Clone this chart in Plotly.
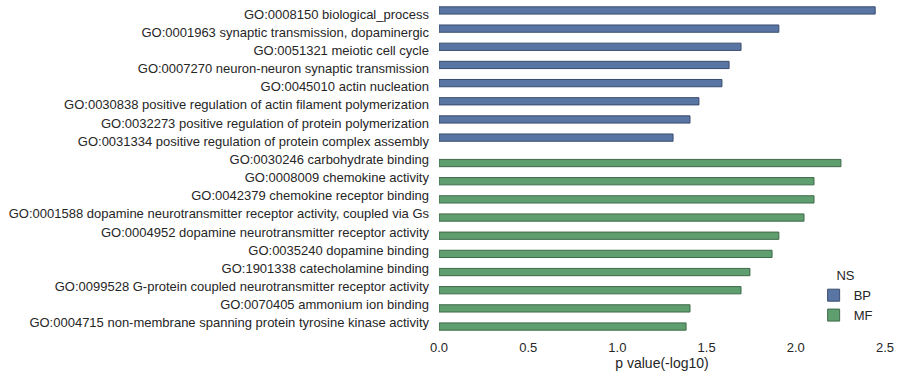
import plotly.graph_objects as go

bp_terms = [
    "GO:0008150 biological_process",
    "GO:0001963 synaptic transmission, dopaminergic",
    "GO:0051321 meiotic cell cycle",
    "GO:0007270 neuron-neuron synaptic transmission",
    "GO:0045010 actin nucleation",
    "GO:0030838 positive regulation of actin filament polymerization",
    "GO:0032273 positive regulation of protein polymerization",
    "GO:0031334 positive regulation of protein complex assembly",
]
bp_values = [2.445, 1.905, 1.693, 1.626, 1.586, 1.457, 1.407, 1.312]

mf_terms = [
    "GO:0030246 carbohydrate binding",
    "GO:0008009 chemokine activity",
    "GO:0042379 chemokine receptor binding",
    "GO:0001588 dopamine neurotransmitter receptor activity, coupled via Gs",
    "GO:0004952 dopamine neurotransmitter receptor activity",
    "GO:0035240 dopamine binding",
    "GO:1901338 catecholamine binding",
    "GO:0099528 G-protein coupled neurotransmitter receptor activity",
    "GO:0070405 ammonium ion binding",
    "GO:0004715 non-membrane spanning protein tyrosine kinase activity",
]
mf_values = [2.253, 2.102, 2.102, 2.046, 1.905, 1.867, 1.743, 1.693, 1.407, 1.385]

x_ticks = [0.0, 0.5, 1.0, 1.5, 2.0, 2.5]
x_tick_labels = ["0.0", "0.5", "1.0", "1.5", "2.0", "2.5"]

categories = bp_terms + mf_terms
bp_full = bp_values + [None] * len(mf_terms)
mf_full = [None] * len(bp_terms) + mf_values

text_color = "#262626"
font_family = "Liberation Sans, Arial, sans-serif"

fig = go.Figure()
fig.add_trace(go.Bar(
    y=categories, x=bp_full, orientation="h", name="BP",
    marker=dict(color="#5975a4", line=dict(color="#3a4d6e", width=1)),
))
fig.add_trace(go.Bar(
    y=categories, x=mf_full, orientation="h", name="MF",
    marker=dict(color="#5f9e6e", line=dict(color="#3f6a49", width=1)),
))

fig.update_layout(
    width=901, height=379,
    margin=dict(l=439, r=16, t=5, b=47),
    paper_bgcolor="white", plot_bgcolor="white",
    barmode="group", bargap=0.2, bargroupgap=0,
    font=dict(family=font_family, size=13, color=text_color),
    showlegend=True,
    legend=dict(
        title=dict(text="NS", side="top center", font=dict(size=13)),
        x=0.84, xanchor="left", y=0.21, yanchor="top",
        bgcolor="rgba(0,0,0,0)", font=dict(size=13),
        tracegroupgap=2,
    ),
)
fig.update_yaxes(
    type="category", categoryorder="array", categoryarray=categories,
    autorange="reversed", showgrid=False, zeroline=False, showline=False,
    ticks="", ticklabelstandoff=9, tickfont=dict(size=13, color=text_color),
)
fig.update_xaxes(
    range=[0, 2.5], tickvals=x_ticks, ticktext=x_tick_labels,
    showgrid=False, zeroline=False, showline=False, ticks="",
    ticklabelstandoff=6, tickfont=dict(size=13, color=text_color),
    title=dict(text="p value(-log10)", font=dict(size=14, color=text_color), standoff=4),
)

fig.write_html("out.html", config={"displayModeBar": False},
               post_script="document.body.style.margin='0px';")
